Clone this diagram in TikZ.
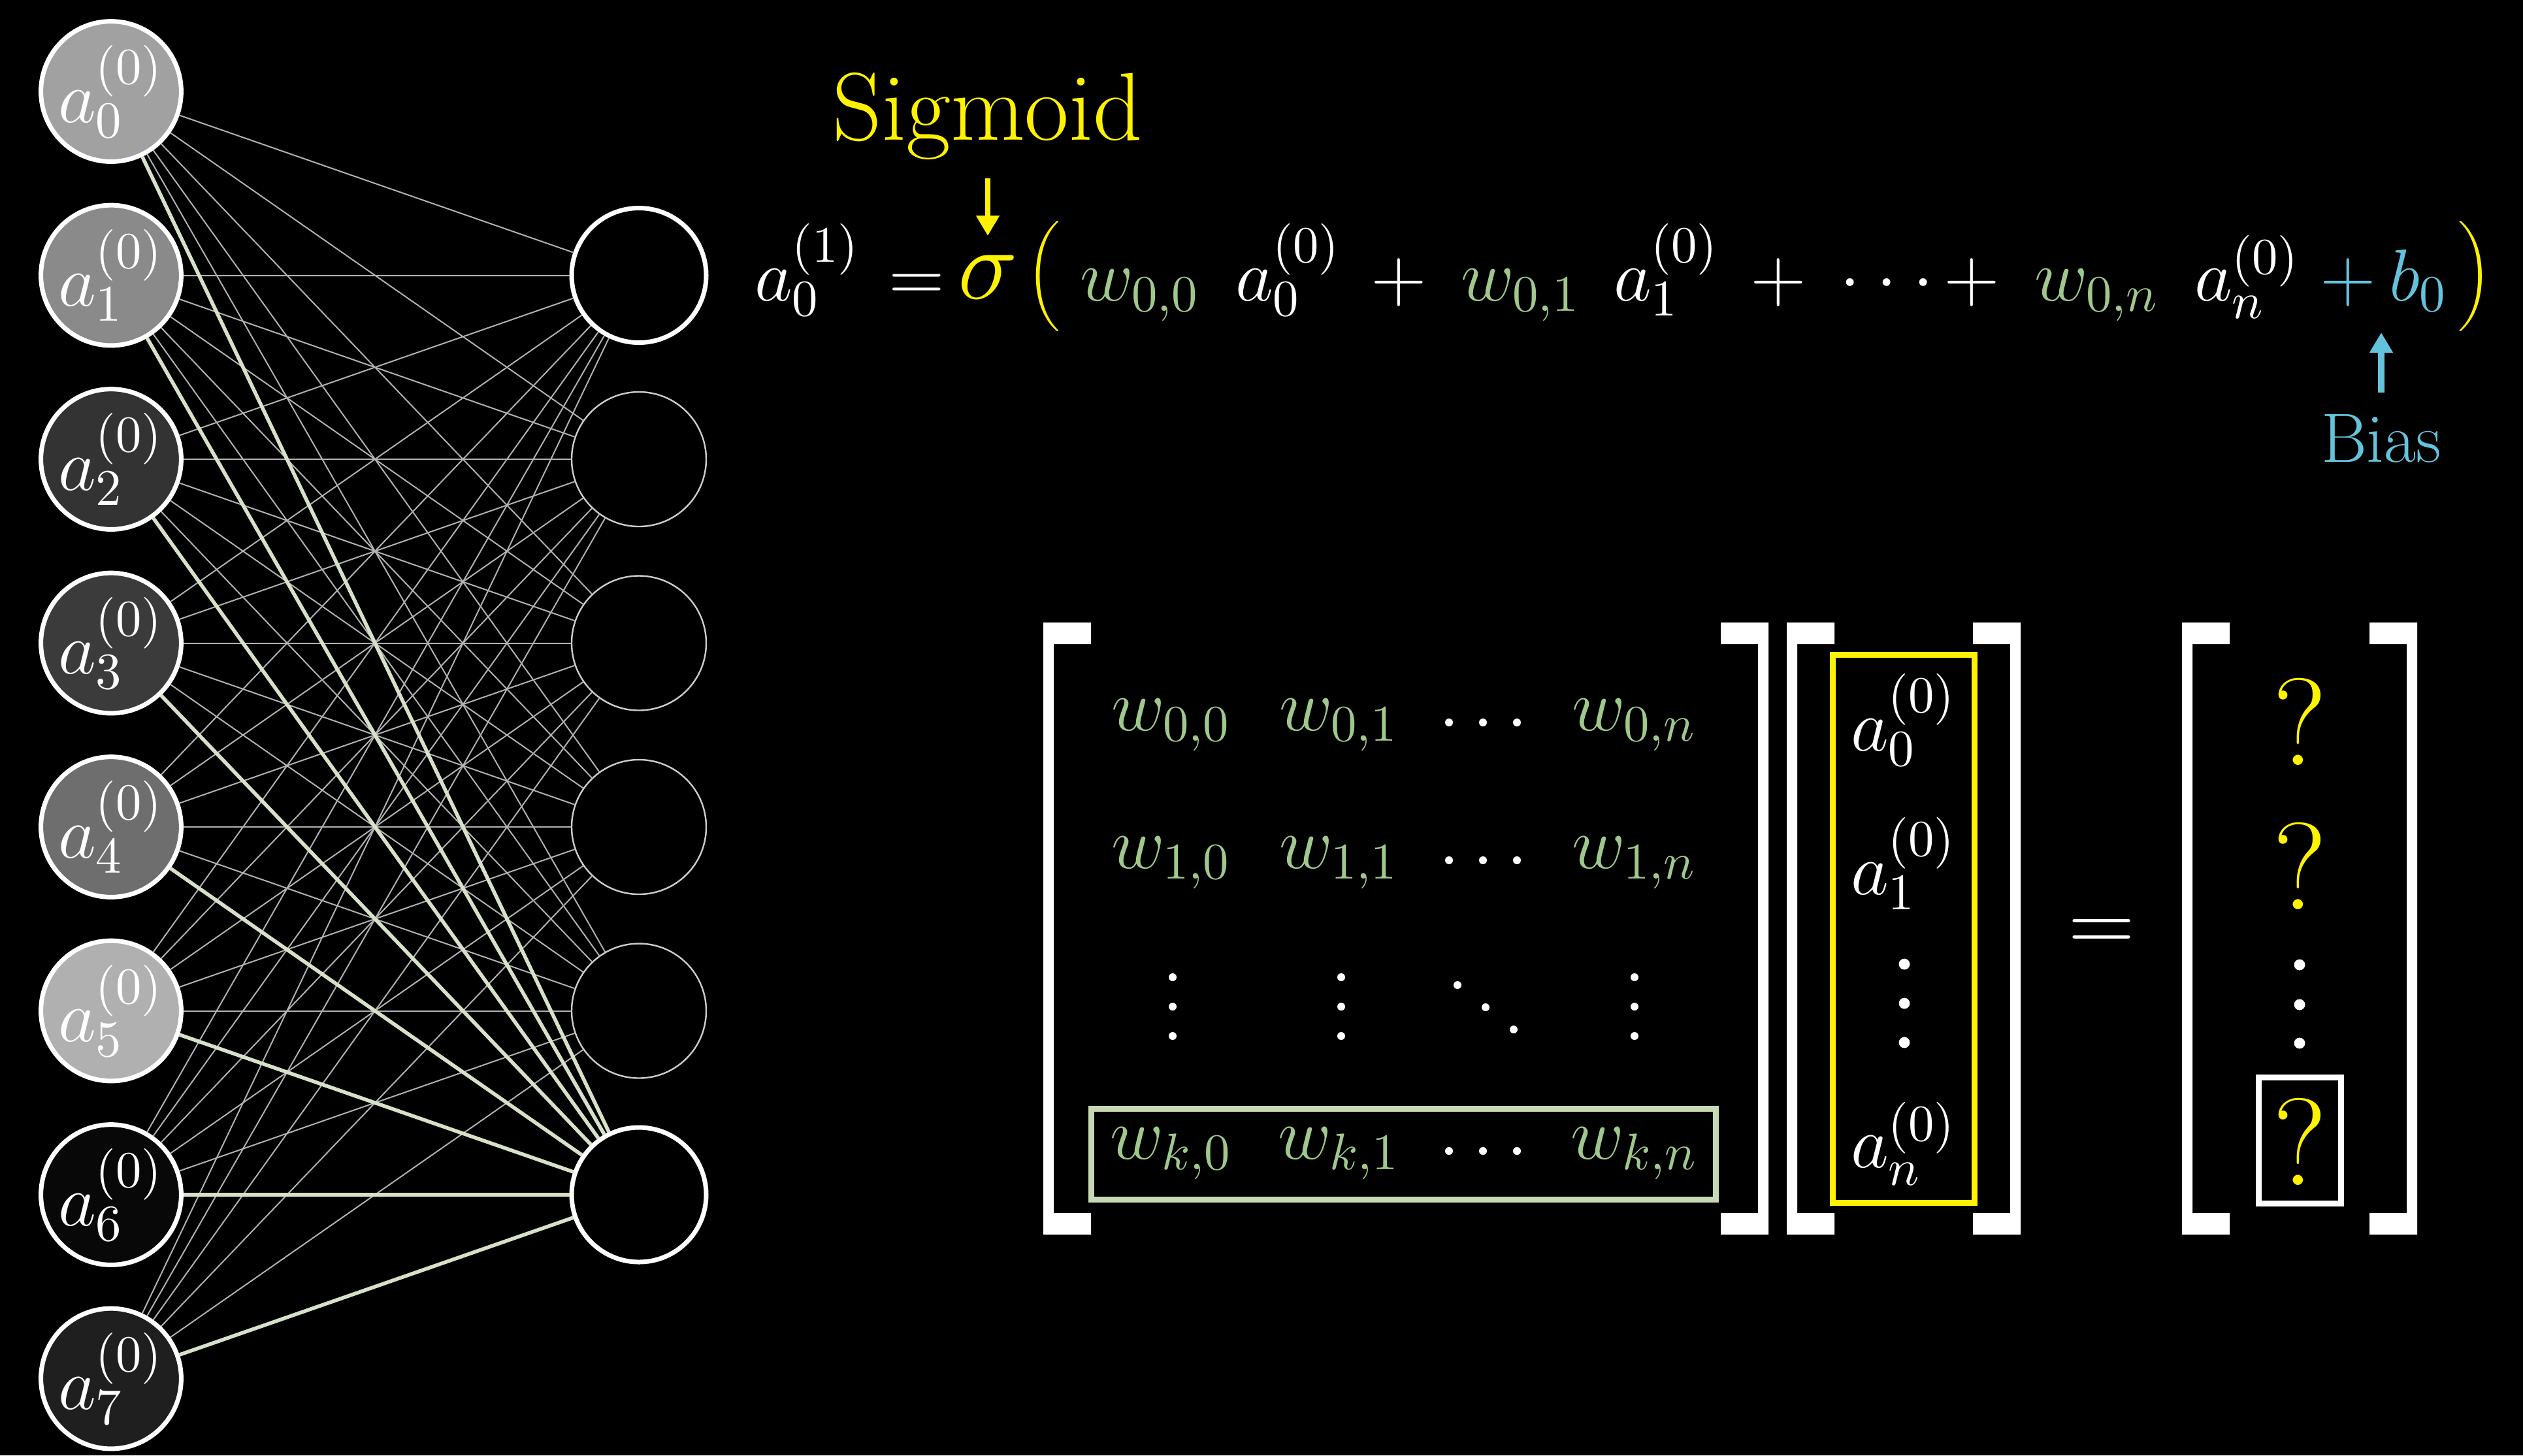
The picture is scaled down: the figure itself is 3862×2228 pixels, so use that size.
\RequirePackage{fix-cm}
\documentclass[tikz,border=0pt]{standalone}
\usepackage{fontspec}
\usetikzlibrary{arrows.meta}

\definecolor{wgreen}{RGB}{160,200,140}
\definecolor{rowbox}{RGB}{200,215,180}
\definecolor{biasblue}{RGB}{100,195,220}
\definecolor{hotwire}{RGB}{215,225,200}

% tall yellow parentheses
\newcommand{\yparl}{$\left(\vcenter to 1.2em{}\right.$}
\newcommand{\yparr}{$\left.\vcenter to 1.2em{}\right)$}

\begin{document}
\begin{tikzpicture}[
    x=0.05mm, y=-0.05mm,
    >={Triangle[length=1.55mm, width=1.7mm]},
    every node/.style={text=white, inner sep=0pt, font=\fontsize{16}{19}\selectfont},
    neuron/.style={circle, draw=white, line width=0.35mm, minimum size=10.3mm},
    faint/.style={circle, draw=white!80!black, line width=0.12mm, minimum size=10.3mm, fill=black},
    wire/.style={white!70!black, line width=0.1mm},
    hot/.style={hotwire, line width=0.28mm},
    term/.style={anchor=base},
    weight/.style={anchor=base, text=wgreen}
]

    % background
    \path[use as bounding box, fill=black] (0,0) rectangle (3862,2228);

    % input layer
    \foreach \i/\g in {0/63,1/54,2/20,3/23,4/43,5/69,6/3,7/12}{
        \node[neuron, fill=white!\g!black] (in\i) at (170,140+281.5*\i) {$a_{\i}^{(0)}$};
    }

    % next layer
    \node[neuron, fill=black] (out0) at (978,421.5) {};
    \foreach \j in {1,...,4}{
        \node[faint] (out\j) at (978,421.5+281.5*\j) {};
    }
    \node[neuron, fill=black] (out5) at (978,1829) {};

    % connections
    \foreach \i in {0,...,7}{
        \foreach \j in {0,...,4}{
            \draw[wire] (in\i) -- (out\j);
        }
    }
    \foreach \i in {0,...,7}{
        \draw[hot] (in\i) -- (out5);
    }

    % sigmoid equation
    \node[term] (lhs) at (1236,460) {$a_0^{(1)}$};
    \node[term] (eq) at (1403,460) {$=$};
    \node[term, text=yellow, font=\fontsize{22}{26}\selectfont] (sigma) at (1512,457) {$\sigma$};
    \node[text=yellow, font=\fontsize{20.6}{25}\selectfont] (lpar) at (1602,423) {\yparl};
    \node[weight] (e00) at (1745,460) {$w_{0,0}$};
    \node[term] (ea0) at (1972,460) {$a_0^{(0)}$};
    \node[term] (p1) at (2141,460) {$+$};
    \node[weight] (e01) at (2328,460) {$w_{0,1}$};
    \node[term] (ea1) at (2551,460) {$a_1^{(0)}$};
    \node[term] (p2) at (2722,460) {$+$};
    \node[term] (edots) at (2888,460) {$\mathord{\cdot}\mkern4mu\mathord{\cdot}\mkern4mu\mathord{\cdot}$};
    \node[term] (p3) at (3018,460) {$+$};
    \node[weight] (e0n) at (3210,460) {$w_{0,n}$};
    \node[term] (ean) at (3440,460) {$a_n^{(0)}$};
    \node[term, text=biasblue] (p4) at (3594,460) {$+$};
    \node[term, text=biasblue] (b0) at (3702,460) {$b_0$};
    \node[text=yellow, font=\fontsize{20.6}{25}\selectfont] (rpar) at (3784,423) {\yparr};

    % labels
    \node[anchor=base, text=yellow, font=\fontsize{21}{25}\selectfont] (sigmoid) at (1512,214) {Sigmoid};
    \draw[->, yellow, line width=0.4mm, shorten <=1.35mm, shorten >=1.4mm] (sigmoid) -- (sigma);

    \node[anchor=base, text=biasblue, font=\fontsize{15.2}{18}\selectfont] (bias) at (3645,707) {Bias};
    \coordinate (biastip) at (3645,509);
    \draw[->, biasblue, line width=0.5mm, shorten <=1.6mm] (bias) -- (biastip);

    % brackets
    \foreach \L in {1597,2735,3340}{
        \fill[white] (\L,953) -- ++(73,0) -- ++(0,33) -- (\L+16,986) -- (\L+16,1857)
            -- (\L+73,1857) -- ++(0,33) -- (\L,1890) -- cycle;
    }
    \foreach \R in {2707,3093,3700}{
        \fill[white] (\R,953) -- ++(-73,0) -- ++(0,33) -- (\R-16,986) -- (\R-16,1857)
            -- (\R-73,1857) -- ++(0,33) -- (\R,1890) -- cycle;
    }

    % weight matrix
    \foreach \r/\y in {0/1118,1/1329,k/1774}{
        \node[weight] (w\r-0) at (1793,\y) {$w_{\r,0}$};
        \node[weight] (w\r-1) at (2050,\y) {$w_{\r,1}$};
        \node[weight] (w\r-n) at (2502,\y) {$w_{\r,n}$};
        \foreach \x in {2218,2270,2322}
            \fill[white] (\x,\y-12) circle[radius=0.3mm];
    }
    \foreach \x in {1795,2053,2502}
        \foreach \y in {1496,1541,1586}
            \fill[white] (\x,\y) circle[radius=0.3mm];
    \foreach \x/\y in {2231/1508,2274/1542,2317/1576}
        \fill[white] (\x,\y) circle[radius=0.3mm];
    \draw[rowbox, line width=0.45mm] (1670,1697) rectangle (2626,1836);

    % activation vector
    \node[term] (v0) at (2914,1149) {$a_0^{(0)}$};
    \node[term] (v1) at (2914,1369) {$a_1^{(0)}$};
    \node[term] (vn) at (2914,1787) {$a_n^{(0)}$};
    \foreach \y in {1476,1536,1596}
        \fill[white] (2915,\y) circle[radius=0.42mm];
    \draw[yellow, line width=0.45mm] (2805,1002) rectangle (3022,1841);

    \node[term, font=\fontsize{20}{24}\selectfont] (equals) at (3217,1457) {$=$};

    % result vector
    \foreach \q/\y in {0/1171,1/1392,n/1814}{
        \node[term, text=yellow, font=\fontsize{27}{32}\selectfont] (q\q) at (3521,\y) {?};
    }
    \foreach \y in {1477,1538,1597}
        \fill[white] (3520,\y) circle[radius=0.42mm];
    \draw[white, line width=0.45mm] (3457,1649) rectangle (3583,1842);

\end{tikzpicture}
\end{document}
